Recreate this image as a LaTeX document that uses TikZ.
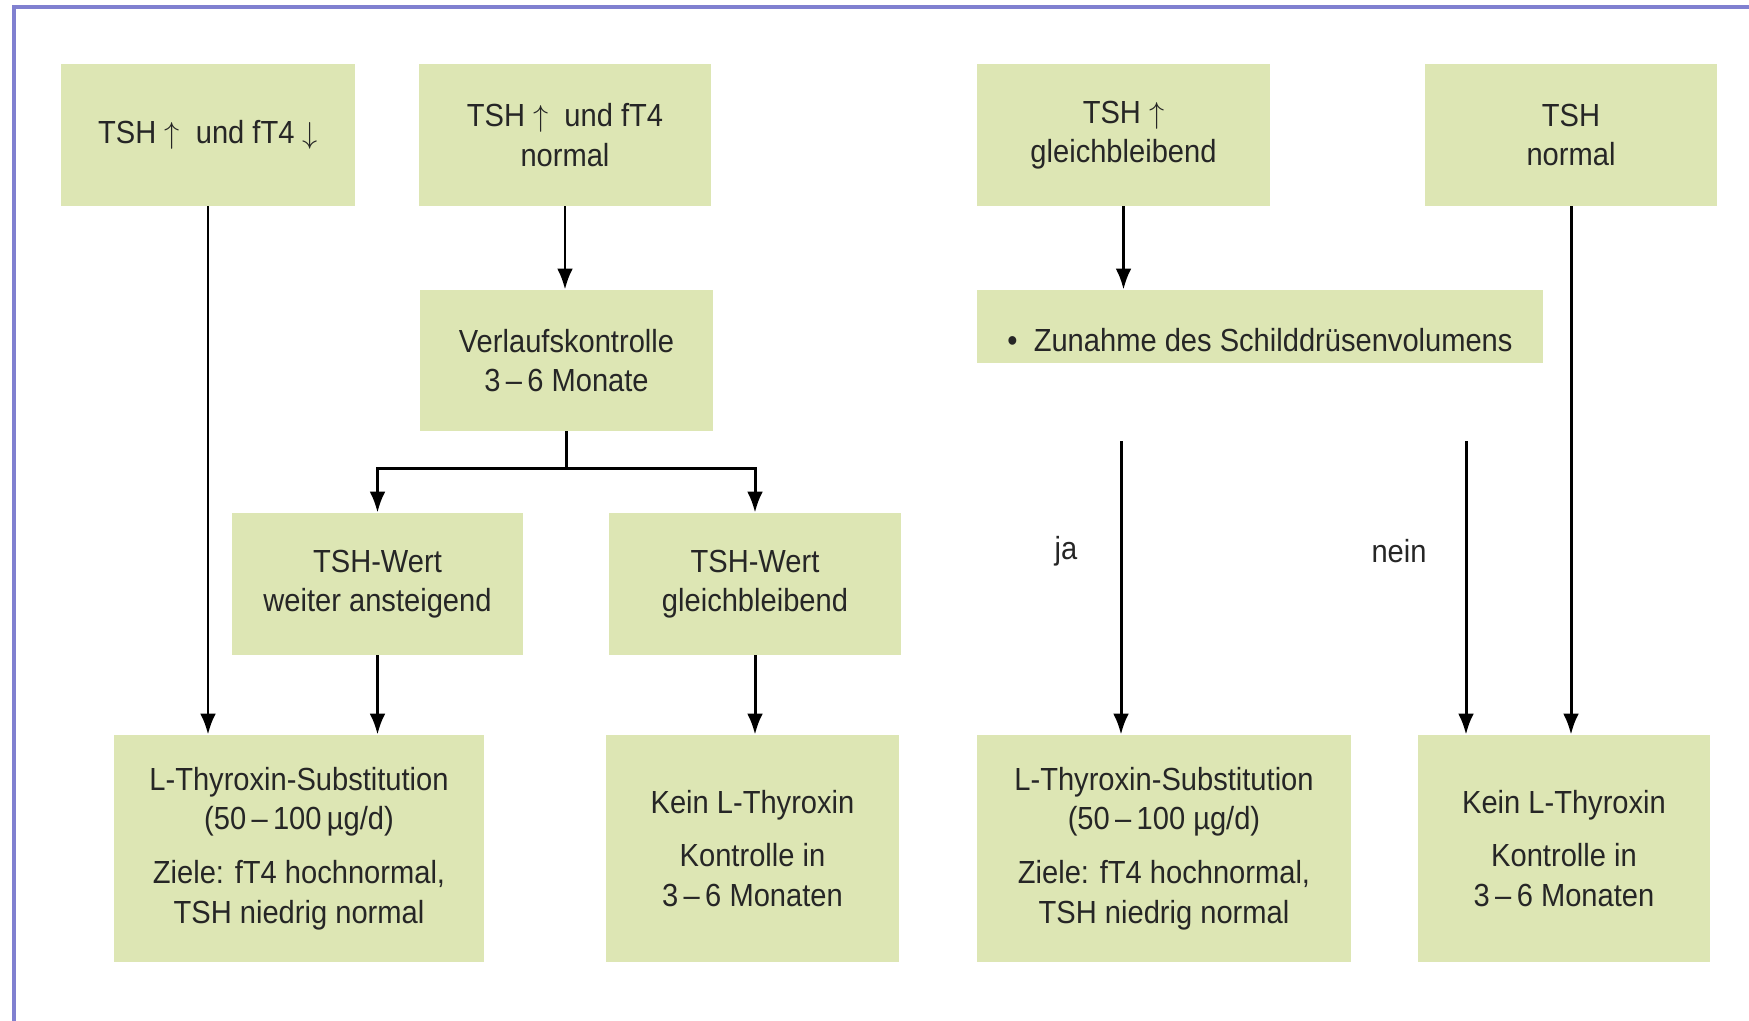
\documentclass[tikz,border=0pt]{standalone}
\usepackage{fontspec}
\setmainfont{Liberation Sans}[FakeStretch=0.91]
\usetikzlibrary{arrows.meta}

\definecolor{boxgreen}{RGB}{221,230,180}
\definecolor{frameblue}{RGB}{128,128,208}
\definecolor{txtgray}{RGB}{38,38,38}

\tikzset{
  box/.style={fill=boxgreen, text=txtgray, align=center, inner sep=0pt,
    minimum width=5.84cm, minimum height=2.84cm,
    font=\fontsize{18.2}{22.5}\selectfont},
  bigbox/.style={box, minimum width=7.4cm, minimum height=4.54cm},
  lbl/.style={text=txtgray, font=\fontsize{18.2}{22.5}\selectfont},
  flow/.style={-{Latex[length=12pt,width=9pt]}, line width=1.7pt},
}

\begin{document}
\begin{tikzpicture}[x=0.02cm, y=-0.02cm]
	\useasboundingbox (0,0) rectangle (1749,1021);
	% frame on the left and on top
	\draw[frameblue, line width=1.8pt] (14,1021) -- (14,7) -- (1749,7);

	% first row
	\node[box, minimum width=5.88cm] (tshLow) at (208,135) {TSH $\uparrow$\ \ und fT4 $\downarrow$};
	\node[box] (tshNorm) at (565,135) {TSH $\uparrow$\ \ und fT4\\normal};
	\node[box, minimum width=5.86cm] (tshConst) at (1123.5,135) {TSH $\uparrow$\\gleichbleibend};
	\node[box] (tshOk) at (1571,135) {TSH\\normal};

	% second row
	\node[box, minimum width=5.86cm, minimum height=2.82cm] (verlauf) at (566.5,360.5) {Verlaufskontrolle\\3\,–\,6 Monate};
	\node[box, minimum width=11.32cm, minimum height=1.46cm,
		text height=29.5pt, text depth=0.5pt] (volume) at (1260,326.5) {•\ \ Zunahme des Schilddrüsenvolumens};

	% third row
	\node[box, minimum width=5.82cm] (tshRise) at (377.5,584) {TSH-Wert\\weiter ansteigend};
	\node[box] (tshSteady) at (755,584) {TSH-Wert\\gleichbleibend};

	% results
	\node[bigbox] (substA) at (299,848.5) {L-Thyroxin-Substitution\\(50\,–\,100\,µg/d)\\[8pt]Ziele: fT4 hochnormal,\\TSH niedrig normal};
	\node[box, minimum width=5.86cm, minimum height=4.54cm] (keinA) at (752.5,848.5) {Kein L-Thyroxin\\[8pt]Kontrolle in\\3\,–\,6 Monaten};
	\node[bigbox, minimum width=7.48cm] (substB) at (1164,848.5) {L-Thyroxin-Substitution\\(50\,–\,100 µg/d)\\[8pt]Ziele: fT4 hochnormal,\\TSH niedrig normal};
	\node[box, minimum height=4.54cm] (keinB) at (1564,848.5) {Kein L-Thyroxin\\[8pt]Kontrolle in\\3\,–\,6 Monaten};

	% left part
	\draw[flow] (tshLow) -- (tshLow |- substA.north);
	\draw[flow] (tshNorm) -- (tshNorm |- verlauf.north);
	\draw[line width=1.7pt] (verlauf.south) -- ++(0,37) coordinate (split);
	\draw[flow] (split) -| (tshRise.north);
	\draw[flow] (split) -| (tshSteady.north);
	\draw[flow] (tshRise) -- (tshRise |- substA.north);
	\draw[flow] (tshSteady) -- (tshSteady |- keinA.north);

	% right part
	\draw[flow] (tshConst) -- (tshConst |- volume.north);
	\coordinate (jaTop) at (1121,441);
	\coordinate (neinTop) at (1466,441);
	\draw[flow] (jaTop) -- (jaTop |- substB.north);
	\draw[flow] (neinTop) -- (neinTop |- keinB.north);
	\draw[flow] (tshOk) -- (tshOk |- keinB.north);
	\node[lbl] (jaLbl) at (1066,551) {ja};
	\node[lbl] (neinLbl) at (1399,551) {nein};
\end{tikzpicture}
\end{document}
